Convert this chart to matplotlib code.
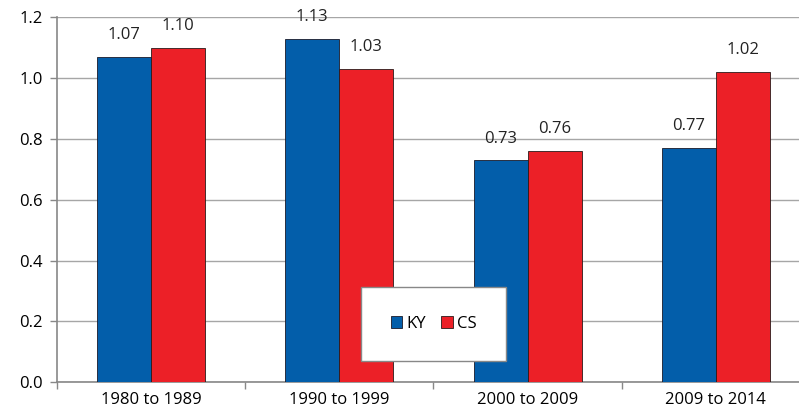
import numpy as np
import matplotlib.pyplot as plt

plt.rcParams['font.family'] = ['Open Sans', 'DejaVu Sans']

# data
periods = ['1980 to 1989', '1990 to 1999', '2000 to 2009', '2009 to 2014']
ky = [1.07, 1.13, 0.73, 0.77]
cs = [1.10, 1.03, 0.76, 1.02]

fs = 12

fig = plt.figure(figsize=(7.99, 4.18), dpi=100)
ax = fig.add_axes([0.0713, 0.0854, 0.9424, 0.8732])

x = np.arange(len(periods))
w = 0.287
b1 = ax.bar(x - w / 2, ky, w, color='#035EAA', edgecolor='#1a1a2a', linewidth=0.6, label='KY', zorder=3)
b2 = ax.bar(x + w / 2, cs, w, color='#EC2027', edgecolor='#2a1a1a', linewidth=0.6, label='CS', zorder=3)

for bars in (b1, b2):
    for r in bars:
        ax.text(r.get_x() + r.get_width() / 2, r.get_height() + 0.045, '%.2f' % r.get_height(),
                ha='center', va='bottom', fontsize=fs, color='#222222', clip_on=False)

ax.set_xlim(-0.5, len(periods) - 0.5)
ax.set_ylim(0, 1.2)
ax.set_yticks(np.arange(0, 1.21, 0.2))
ax.set_yticklabels(['%.1f' % v for v in np.arange(0, 1.21, 0.2)])
ax.yaxis.grid(True, color='#a6a6a6', linewidth=1.0, zorder=0)
ax.set_axisbelow(True)

ax.set_xticks(x)
ax.set_xticklabels(periods)
ax.set_xticks(np.arange(-0.5, len(periods)), minor=True)
ax.tick_params(axis='x', which='major', length=0, pad=7, labelsize=fs)
ax.tick_params(axis='x', which='minor', length=5, color='#888888', width=1.0)
ax.tick_params(axis='y', length=5, color='#888888', width=1.0, labelsize=fs, pad=5)

for s in ['top', 'right']:
    ax.spines[s].set_visible(False)
for s in ['left', 'bottom']:
    ax.spines[s].set_color('#888888')
    ax.spines[s].set_linewidth(1.2)

leg = ax.legend(loc='center', bbox_to_anchor=(0.5426, 0.2249), bbox_transform=fig.transFigure,
                ncol=2, frameon=True, fancybox=False, fontsize=fs, borderpad=1.75,
                handlelength=0.7, handleheight=0.7, handletextpad=0.25, columnspacing=0.9)
leg.get_frame().set_edgecolor('#888888')
leg.get_frame().set_linewidth(1.0)
leg.get_frame().set_alpha(1)

fig.savefig('out.png', dpi=100)
